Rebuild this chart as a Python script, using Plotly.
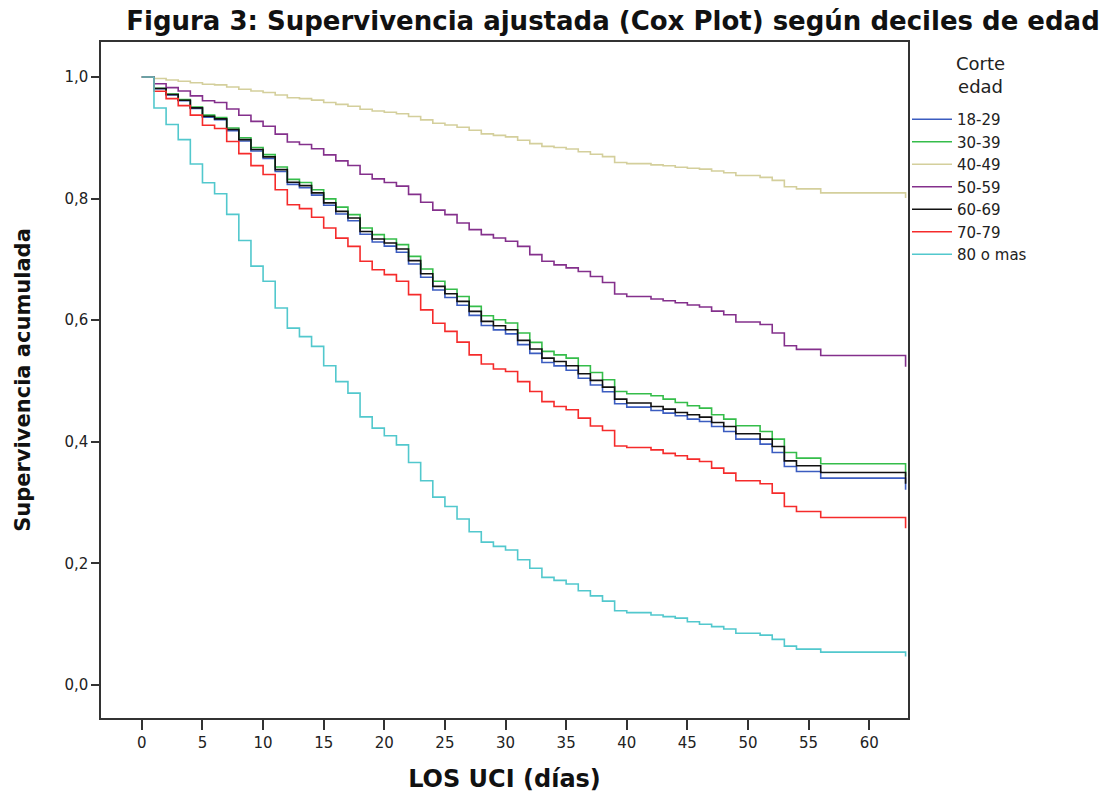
import plotly.graph_objects as go

# ---------------- data ----------------
days = [0, 1, 2, 3, 4, 5, 6, 7, 8, 9, 10, 11, 12, 13, 14, 15, 16, 17, 18, 19,
        20, 21, 22, 23, 24, 25, 26, 27, 28, 29, 30, 31, 32, 33, 34, 35, 36, 37, 38, 39,
        40, 41, 42, 43, 44, 45, 46, 47, 48, 49, 50, 51, 52, 53, 54, 55, 56, 57, 58, 59,
        60, 61, 62, 63]

group_names = ["18-29", "30-39", "40-49", "50-59", "60-69", "70-79", "80 o mas"]
legend_title = "Corte<br>edad"

surv_18_29 = [1.0, 0.9806, 0.9706, 0.961, 0.9481, 0.9341, 0.9297, 0.9118, 0.8948, 0.8782,
              0.8659, 0.8446, 0.8234, 0.8178, 0.8057, 0.789, 0.7747, 0.7635, 0.7413, 0.7286,
              0.7219, 0.7118, 0.6925, 0.6707, 0.6496, 0.6374, 0.6247, 0.608, 0.5913, 0.5841,
              0.5775, 0.5598, 0.5454, 0.5305, 0.5249, 0.5176, 0.5046, 0.4935, 0.4824, 0.4626,
              0.457, 0.457, 0.4516, 0.4472, 0.4428, 0.4373, 0.4335, 0.4252, 0.417, 0.4044,
              0.4044, 0.3962, 0.3824, 0.3594, 0.3511, 0.3511, 0.3402, 0.3402, 0.3402, 0.3402,
              0.3402, 0.3402, 0.3402, 0.321]

surv_30_39 = [1.0, 0.9816, 0.9721, 0.963, 0.9507, 0.9374, 0.9332, 0.9161, 0.9, 0.8841,
              0.8723, 0.852, 0.8316, 0.8264, 0.8147, 0.7995, 0.786, 0.7737, 0.7517, 0.7407,
              0.7336, 0.7243, 0.705, 0.6843, 0.664, 0.651, 0.639, 0.6228, 0.6074, 0.6008,
              0.5953, 0.579, 0.5635, 0.5487, 0.543, 0.5377, 0.525, 0.514, 0.502, 0.4828,
              0.479, 0.479, 0.4757, 0.4702, 0.4647, 0.4593, 0.4554, 0.4444, 0.4373, 0.4263,
              0.4263, 0.417, 0.4044, 0.3824, 0.3731, 0.3731, 0.3638, 0.3638, 0.3638, 0.3638,
              0.3638, 0.3638, 0.3638, 0.343]

surv_40_49 = [1.0, 0.9975, 0.995, 0.993, 0.9905, 0.988, 0.987, 0.9835, 0.98, 0.977,
              0.9745, 0.9705, 0.966, 0.9645, 0.962, 0.958, 0.955, 0.952, 0.947, 0.944,
              0.942, 0.9395, 0.935, 0.9295, 0.924, 0.921, 0.9175, 0.9125, 0.9065, 0.904,
              0.9015, 0.896, 0.8905, 0.886, 0.884, 0.8815, 0.877, 0.873, 0.869, 0.8595,
              0.8575, 0.8575, 0.8555, 0.854, 0.8515, 0.85, 0.8485, 0.8455, 0.8425, 0.838,
              0.838, 0.835, 0.83, 0.8195, 0.816, 0.816, 0.8095, 0.8095, 0.8095, 0.8095,
              0.8095, 0.8095, 0.8095, 0.801]

surv_50_59 = [1.0, 0.989, 0.9826, 0.977, 0.969, 0.961, 0.958, 0.9473, 0.937, 0.927,
              0.919, 0.906, 0.893, 0.889, 0.882, 0.872, 0.862, 0.8545, 0.84, 0.8325,
              0.8265, 0.8205, 0.807, 0.794, 0.781, 0.7737, 0.76, 0.749, 0.7407, 0.7353,
              0.7298, 0.7215, 0.7078, 0.697, 0.691, 0.686, 0.68, 0.672, 0.662, 0.643,
              0.639, 0.639, 0.635, 0.632, 0.6288, 0.625, 0.6217, 0.615, 0.609, 0.597,
              0.597, 0.593, 0.579, 0.558, 0.552, 0.552, 0.542, 0.542, 0.542, 0.542,
              0.542, 0.542, 0.542, 0.5235]

surv_60_69 = [1.0, 0.981, 0.9712, 0.9618, 0.9492, 0.9355, 0.9312, 0.9136, 0.897, 0.8807,
              0.8686, 0.8477, 0.8268, 0.8214, 0.8094, 0.793, 0.779, 0.768, 0.746, 0.7336,
              0.727, 0.717, 0.698, 0.6765, 0.6557, 0.6436, 0.631, 0.6145, 0.598, 0.591,
              0.5844, 0.5668, 0.5526, 0.5377, 0.5322, 0.525, 0.512, 0.501, 0.49, 0.4702,
              0.4637, 0.4637, 0.458, 0.4538, 0.4483, 0.4444, 0.4406, 0.4318, 0.4252, 0.4132,
              0.4132, 0.4044, 0.3923, 0.3687, 0.3605, 0.3605, 0.3495, 0.3495, 0.3495, 0.3495,
              0.3495, 0.3495, 0.3495, 0.3309]

surv_70_79 = [1.0, 0.9765, 0.9644, 0.953, 0.9374, 0.9206, 0.9154, 0.894, 0.874, 0.8543,
              0.8397, 0.8147, 0.79, 0.7836, 0.7694, 0.7517, 0.735, 0.7215, 0.697, 0.683,
              0.675, 0.664, 0.642, 0.617, 0.595, 0.5816, 0.564, 0.543, 0.528, 0.5197,
              0.5157, 0.499, 0.4828, 0.466, 0.458, 0.4527, 0.439, 0.426, 0.4186, 0.393,
              0.3906, 0.3906, 0.3868, 0.381, 0.377, 0.3715, 0.3676, 0.3567, 0.3484, 0.336,
              0.336, 0.331, 0.3155, 0.2935, 0.2853, 0.2853, 0.2754, 0.2754, 0.2754, 0.2754,
              0.2754, 0.2754, 0.2754, 0.258]

surv_80_mas = [1.0, 0.949, 0.922, 0.897, 0.857, 0.826, 0.808, 0.774, 0.731, 0.689,
               0.664, 0.62, 0.587, 0.573, 0.557, 0.525, 0.499, 0.48, 0.441, 0.4225,
               0.41, 0.395, 0.366, 0.336, 0.309, 0.2935, 0.273, 0.252, 0.235, 0.228,
               0.222, 0.206, 0.192, 0.177, 0.172, 0.166, 0.155, 0.1465, 0.138, 0.122,
               0.119, 0.119, 0.115, 0.1125, 0.11, 0.104, 0.1, 0.096, 0.092, 0.085,
               0.085, 0.082, 0.075, 0.064, 0.059, 0.059, 0.054, 0.054, 0.054, 0.054,
               0.054, 0.054, 0.054, 0.047]

series = [surv_18_29, surv_30_39, surv_40_49, surv_50_59, surv_60_69, surv_70_79, surv_80_mas]

x_tick_vals = [0, 5, 10, 15, 20, 25, 30, 35, 40, 45, 50, 55, 60]
x_tick_text = ["0", "5", "10", "15", "20", "25", "30", "35", "40", "45", "50", "55", "60"]
y_tick_vals = [0.0, 0.2, 0.4, 0.6, 0.8, 1.0]
y_tick_text = ["0,0", "0,2", "0,4", "0,6", "0,8", "1,0"]

# ---------------- styling ----------------
colors = ["#3b5cc0", "#35bd4a", "#d4cf9c", "#84308c", "#111111", "#f52b2b", "#52c8cd"]
FONT = "DejaVu Sans, Liberation Sans, Arial, sans-serif"
AXIS_COLOR = "#333333"
W, H = 1103, 796
ML, MR, MT, MB = 101, 195, 42, 78
PW, PH = W - ML - MR, H - MT - MB

fig = go.Figure()
for name, vals, col in zip(group_names, series, colors):
    assert len(vals) == len(days)
    fig.add_trace(go.Scatter(
        x=days, y=vals, mode="lines", name=name,
        line=dict(shape="hv", color=col, width=1.6),
    ))

fig.update_layout(
    width=W, height=H, autosize=False,
    margin=dict(l=ML, r=MR, t=MT, b=MB, pad=0),
    paper_bgcolor="white", plot_bgcolor="white",
    font=dict(family=FONT, color="#111111"),
    title=dict(
        text="<b>Figura 3: Supervivencia ajustada (Cox Plot) según deciles de edad</b>",
        x=613 / W, xanchor="center", xref="container",
        y=1 - 21 / H, yanchor="middle", yref="container",
        font=dict(family=FONT, size=26, color="#111111"),
    ),
    showlegend=True,
    legend=dict(
        x=(907 - ML) / PW, xanchor="left",
        y=1 - (103 - MT) / PH, yanchor="top",
        font=dict(family=FONT, size=15, color="#222222"),
        itemwidth=40, tracegroupgap=0,
        bgcolor="rgba(0,0,0,0)",
    ),
    annotations=[dict(
        text=legend_title, xref="paper", yref="paper",
        x=(980 - ML) / PW, y=1 - (74.5 - MT) / PH,
        xanchor="center", yanchor="middle", showarrow=False, align="center",
        font=dict(family=FONT, size=18, color="#222222"),
    )],
    xaxis=dict(
        range=[-3.37, 63.2], tickmode="array", tickvals=x_tick_vals, ticktext=x_tick_text,
        ticks="outside", ticklen=10, tickwidth=1.5, tickcolor=AXIS_COLOR,
        showline=True, linecolor=AXIS_COLOR, linewidth=1.5, mirror=True,
        showgrid=False, zeroline=False, automargin=False,
        tickfont=dict(family=FONT, size=15, color="#222222"),
        title=dict(text="<b>LOS UCI (días)</b>", standoff=19,
                   font=dict(family=FONT, size=24, color="#111111")),
    ),
    yaxis=dict(
        range=[-0.0543, 1.0576], tickmode="array", tickvals=y_tick_vals, ticktext=y_tick_text,
        ticks="outside", ticklen=8, tickwidth=1.5, tickcolor=AXIS_COLOR,
        showline=True, linecolor=AXIS_COLOR, linewidth=1.5, mirror=True,
        showgrid=False, zeroline=False, automargin=False,
        tickfont=dict(family=FONT, size=15, color="#222222"),
        title=dict(text="<b>Supervivencia acumulada</b>", standoff=28,
                   font=dict(family=FONT, size=21, color="#111111")),
    ),
)

fig.write_html(
    "out.html",
    config={"displayModeBar": False},
    post_script="document.body.style.margin='0px';document.body.style.padding='0px';",
)
